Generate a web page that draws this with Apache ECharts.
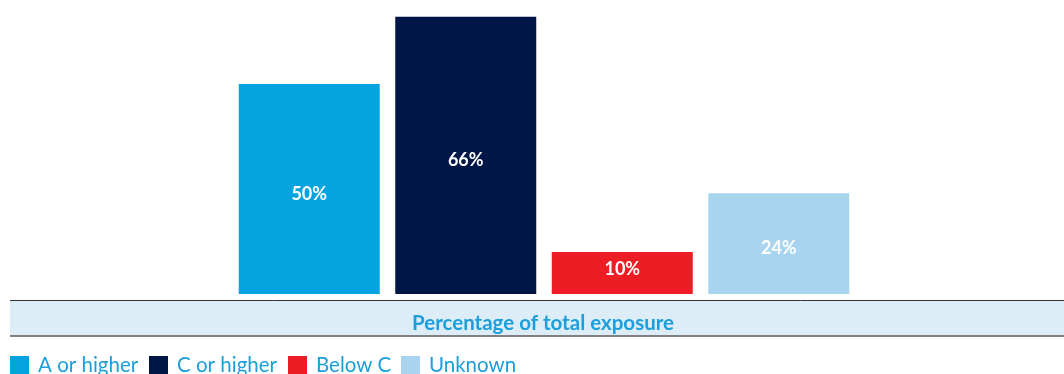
<!DOCTYPE html>
<html><head><meta charset="utf-8">
<script src="https://cdn.jsdelivr.net/npm/echarts@6/dist/echarts.min.js"></script>
<style>html,body{margin:0;padding:0;background:#fff}#c{width:1064px;height:374px}</style>
</head><body><div id="c"></div>
<script>
const categories = ['Percentage of total exposure'];
const seriesNames = ['A or higher', 'C or higher', 'Below C', 'Unknown'];
const seriesValues = [50, 66, 10, 24];
const colors = ['#05a4e0', '#001647', '#ee1c25', '#a8d4f0'];
const labelOffsets = [5, 5, -4, 5];
const legendLefts = [10, 149, 288, 401];
const FONT = 'Lato, "Open Sans", sans-serif';

const chart = echarts.init(document.getElementById('c'), null, {renderer: 'canvas'});
const series = seriesNames.map((n, i) => ({
  name: n, type: 'bar', data: [seriesValues[i]],
  barWidth: 141, barGap: '11%',
  itemStyle: {color: colors[i]},
  label: {show: true, position: 'inside', formatter: '{c}%', color: '#fff',
    fontFamily: FONT, fontWeight: 'bold', fontSize: 18, offset: [0, labelOffsets[i]]}
}));
const legends = seriesNames.map((n, i) => ({
  data: [n], left: legendLefts[i], top: 355, padding: 0,
  icon: 'rect', itemWidth: 19, itemHeight: 19,
  textStyle: {color: '#1a9fdc', fontSize: 20.5, fontFamily: FONT, padding: [2, 0, 0, 4]}
}));
chart.setOption({
  animation: false,
  grid: {left: 24, right: 0, top: 0, bottom: 80},
  legend: legends,
  xAxis: {type: 'category', data: categories, show: false},
  yAxis: {type: 'value', min: 0, max: 70, show: false},
  series: series,
  graphic: [
    {type: 'rect', shape: {x: 10, y: 300, width: 1054, height: 36}, style: {fill: '#dcedf8'}, z: -1},
    {type: 'line', shape: {x1: 10, y1: 300.5, x2: 1064, y2: 300.5}, style: {stroke: '#333', lineWidth: 1}},
    {type: 'line', shape: {x1: 10, y1: 336, x2: 1064, y2: 336}, style: {stroke: '#808080', lineWidth: 2}},
    {type: 'text', x: 543, y: 323, style: {text: categories[0], fill: '#1a9fdc',
      font: 'bold 20.5px ' + FONT, textAlign: 'center', textVerticalAlign: 'middle'}}
  ]
});
</script></body></html>
